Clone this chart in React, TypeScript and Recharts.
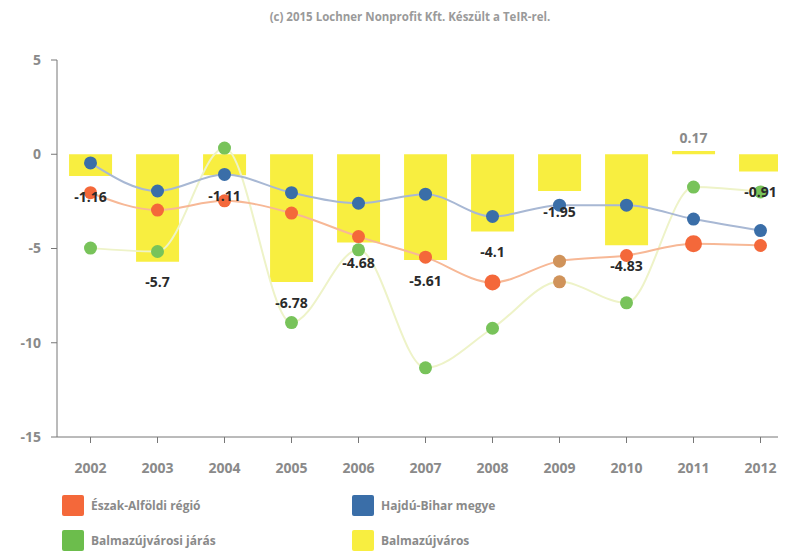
import React from 'react';
import { ComposedChart, Bar, Line, XAxis, YAxis, LabelList } from 'recharts';

const years = ['2002', '2003', '2004', '2005', '2006', '2007', '2008', '2009', '2010', '2011', '2012'];
const balmazujvaros = [-1.16, -5.7, -1.11, -6.78, -4.68, -5.61, -4.1, -1.95, -4.83, 0.17, -0.91];
const eszakAlfoldi = [-2.04, -2.96, -2.47, -3.12, -4.37, -5.46, -6.8, -5.67, -5.37, -4.75, -4.84];
const hajduBihar = [-0.46, -1.95, -1.07, -2.04, -2.6, -2.12, -3.3, -2.7, -2.7, -3.44, -4.05];
const balmazJaras = [-4.98, -5.16, 0.33, -8.93, -5.07, -11.33, -9.23, -6.77, -7.88, -1.74, -2.0];
const yTicks = [5, 0, -5, -10, -15];

const title = '(c) 2015 Lochner Nonprofit Kft. Készült a TeIR-rel.';
const legendItems = [
  { name: 'Észak-Alföldi régió', color: '#f4683a' },
  { name: 'Hajdú-Bihar megye', color: '#3a6ea8' },
  { name: 'Balmazújvárosi járás', color: '#6cbd4c' },
  { name: 'Balmazújváros', color: '#f8ee40' },
];

const data = years.map((y, i) => ({
  year: y,
  bar: balmazujvaros[i],
  orange: eszakAlfoldi[i],
  blue: hajduBihar[i],
  green: balmazJaras[i],
}));

const FONT = "'Open Sans', 'DejaVu Sans', sans-serif";

const makeDot = (color: string, special?: (year: string) => { r?: number; fill?: string } | null) => (props: any) => {
  const { cx, cy, payload, index } = props;
  if (cx == null || cy == null) return <g key={index} />;
  const s = special ? special(payload.year) : null;
  return <circle key={index} cx={cx} cy={cy} r={s?.r ?? 6.5} fill={s?.fill ?? color} stroke="none" />;
};

const orangeDot = makeDot('#f4683a', (y) => (y === '2009' ? { fill: '#d0935a' } : y === '2011' ? { r: 8.5 } : y === '2008' ? { r: 8 } : null));
const blueDot = makeDot('#3a6ea8');
const greenDot = makeDot('#78c35a', (y) => (y === '2009' ? { fill: '#d0935a' } : null));

const BarLabel = (props: any) => {
  const { x, y, width, height, value } = props;
  const top = Math.min(y, y + height);
  const bottom = Math.max(y, y + height);
  const cx = x + width / 2;
  if (value >= 0) {
    return (
      <text x={cx} y={top - 12} textAnchor="middle" dominantBaseline="middle" fill="#8a8a8a" fontSize={14} fontWeight={700} fontFamily={FONT}>
        {value}
      </text>
    );
  }
  return (
    <text x={cx} y={bottom + 22} textAnchor="middle" dominantBaseline="middle" fill="#2a2a2a" fontSize={14} fontWeight={700} fontFamily={FONT}>
      {value}
    </text>
  );
};

export default function App() {
  return (
    <div style={{ position: 'relative', width: 786, height: 551, margin: '-8px 0 0 -8px', overflow: 'hidden', fontFamily: FONT, background: '#fff' }}>
      <div style={{ position: 'absolute', top: 9, left: 0, width: 820, textAlign: 'center', fontSize: 11.5, fontWeight: 700, color: '#9a9a9a' }}>
        {title}
      </div>
      <ComposedChart width={800} height={551} data={data} margin={{ top: 60, right: 6, bottom: 84, left: 0 }} barCategoryGap="18%">
        <XAxis
          dataKey="year"
          stroke="#777"
          tickLine={{ stroke: '#777' }}
          tickSize={6}
          tickMargin={20}
          height={30}
          tick={{ fill: '#8a8a8a', fontSize: 14, fontWeight: 700, fontFamily: FONT }}
          interval={0}
        />
        <YAxis
          domain={[-15, 5]}
          ticks={yTicks}
          width={57}
          stroke="#777"
          tickSize={6}
          tickMargin={10}
          tick={{ fill: '#8a8a8a', fontSize: 14, fontWeight: 700, fontFamily: FONT }}
          interval={0}
        />
        <Bar dataKey="bar" fill="#f8ee40" isAnimationActive={false}>
          <LabelList dataKey="bar" content={BarLabel} />
        </Bar>
        <Line type="monotone" dataKey="green" stroke="#eef3c8" strokeWidth={2} dot={greenDot} activeDot={false} isAnimationActive={false} />
        <Line type="monotone" dataKey="orange" stroke="#f7b896" strokeWidth={2} dot={orangeDot} activeDot={false} isAnimationActive={false} />
        <Line type="monotone" dataKey="blue" stroke="#a8b8d4" strokeWidth={2} dot={blueDot} activeDot={false} isAnimationActive={false} />
      </ComposedChart>
      {legendItems.map((it, i) => (
        <div
          key={it.name}
          style={{
            position: 'absolute',
            left: i % 2 === 0 ? 62 : 352,
            top: i < 2 ? 495 : 530,
            display: 'flex',
            alignItems: 'center',
            fontSize: 12,
            fontWeight: 700,
            color: '#8a8a8a',
          }}
        >
          <span style={{ display: 'inline-block', width: 22, height: 21, background: it.color, borderRadius: 2, marginRight: 7 }} />
          <span>{it.name}</span>
        </div>
      ))}
    </div>
  );
}
